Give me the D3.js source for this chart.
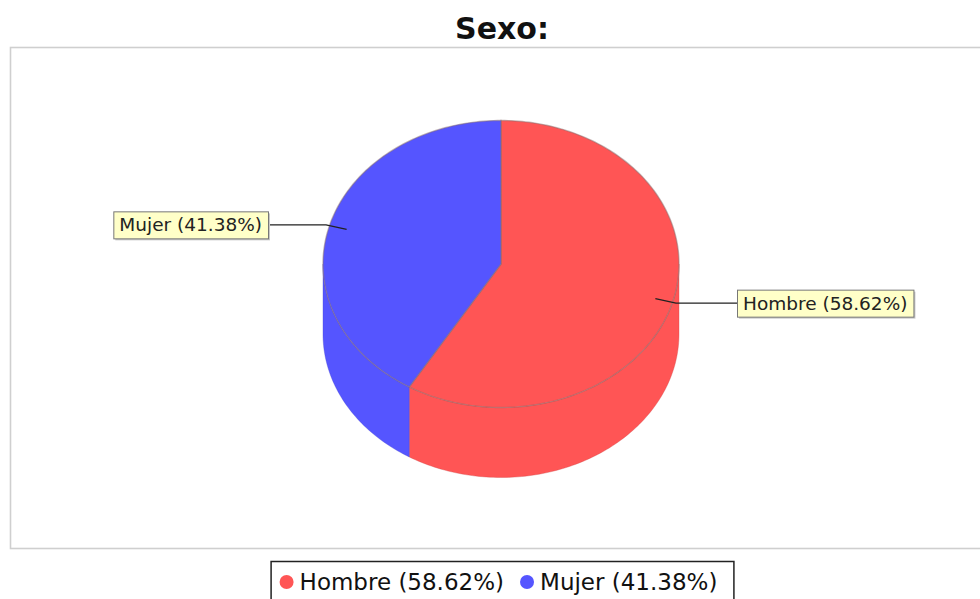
<!DOCTYPE html>
<html>
<head>
<meta charset="utf-8">
<script src="https://cdn.jsdelivr.net/npm/d3@7"></script>
<style>
  body { margin: 0; background: #fff; }
  svg { display: block; }
</style>
</head>
<body>
<svg id="chart" width="980" height="599"></svg>
<script>
// data
const categories = ["Hombre", "Mujer"];
const values = [58.62, 41.38];
const colors = ["#FF5555", "#5555FF"];

const width = 980, height = 599;
const svg = d3.select("#chart");

svg.append("rect").attr("width", width).attr("height", height).style("fill", "#fff");

// title
svg.append("text")
    .attr("x", 502)
    .attr("y", 39)
    .attr("text-anchor", "middle")
    .style("font-family", "DejaVu Sans")
    .style("font-weight", "bold")
    .style("font-size", "30px")
    .attr("fill", "#111")
    .text("Sexo:");

// plot area
svg.append("rect")
    .attr("x", 10.5).attr("y", 47.5)
    .attr("width", 990).attr("height", 501)
    .attr("fill", "none")
    .attr("stroke", "#cfcfcf")
    .attr("stroke-width", 1.6);

const cx = 501, cy = 264, rx = 178, ry = 143.5, depth = 70;

const pie = d3.pie().sort(null).value(d => d.value);
const arcs = pie(categories.map((c, i) => ({ name: c, value: values[i], color: colors[i] })));

const pt = (a, k = 1, dy = 0) => [cx + k * rx * Math.sin(a), cy + dy - k * ry * Math.cos(a)];

function arcPoints(a0, a1, dy) {
    const n = Math.max(2, Math.ceil((a1 - a0) / 0.02));
    return d3.range(n + 1).map(i => pt(a0 + (a1 - a0) * i / n, 1, dy));
}

const g = svg.append("g");

// side faces (front half: angles between PI/2 and 3PI/2)
arcs.forEach(d => {
    const a0 = Math.max(d.startAngle, Math.PI / 2);
    const a1 = Math.min(d.endAngle, 3 * Math.PI / 2);
    if (a1 <= a0) return;
    const top = arcPoints(a0, a1, 0);
    const bottom = arcPoints(a0, a1, depth).reverse();
    g.append("path")
        .attr("d", "M" + top.concat(bottom).join("L") + "Z")
        .attr("fill", d.data.color)
        .attr("stroke", d3.color(d.data.color).darker(0.6))
        .attr("stroke-opacity", 0.35)
        .attr("stroke-width", 1);
});

// top faces
arcs.forEach(d => {
    const p = [[cx, cy]].concat(arcPoints(d.startAngle, d.endAngle, 0));
    g.append("path")
        .attr("d", "M" + p.join("L") + "Z")
        .attr("fill", d.data.color)
        .attr("stroke", "#8a7070")
        .attr("stroke-opacity", 0.5)
        .attr("stroke-width", 1.4);
});

// labels
const labels = svg.append("g");
arcs.forEach(d => {
    const mid = (d.startAngle + d.endAngle) / 2;
    const right = Math.sin(mid) > 0;
    const anchor = pt(mid, 0.9);
    const edge = pt(mid, 1.02);
    const boxX = right ? cx + 236 : cx - 233;
    const ly = edge[1];

    labels.append("path")
        .attr("d", "M" + [anchor, edge, [boxX, ly]].join("L"))
        .attr("fill", "none")
        .attr("stroke", "#222")
        .attr("stroke-width", 1.3);

    const lg = labels.append("g");
    const t = lg.append("text")
        .style("font-family", "DejaVu Sans")
        .style("font-size", "18.5px")
        .style("font-weight", "500")
        .attr("fill", "#222")
        .text(d.data.name + " (" + d.data.value.toFixed(2) + "%)");
    const tw = t.node().getComputedTextLength();
    const bw = tw + 12, bh = 27;
    const bx = right ? boxX : boxX - bw;
    const by = ly - bh / 2;
    lg.insert("rect", "text")
        .attr("x", bx + 2).attr("y", by + 2)
        .attr("width", bw).attr("height", bh)
        .attr("fill", "#c8c8c8");
    lg.insert("rect", "text")
        .attr("x", bx + 0.5).attr("y", by + 0.5)
        .attr("width", bw).attr("height", bh)
        .attr("fill", "#FFFFC8")
        .attr("stroke", "#777");
    t.attr("x", bx + 6).attr("y", by + bh / 2 + 6.5);
});

// legend
const legend = svg.append("g");
let x = 0;
arcs.forEach((d, i) => {
    const it = legend.append("g");
    it.append("circle").attr("cx", x + 7).attr("cy", 0).attr("r", 7).attr("fill", d.data.color);
    const t = it.append("text")
        .attr("x", x + 20).attr("y", 8)
        .style("font-family", "DejaVu Sans")
        .style("font-size", "23px")
        .attr("fill", "#111")
        .text(d.data.name + " (" + d.data.value.toFixed(2) + "%)");
    x += 20 + t.node().getComputedTextLength() + 16;
});
const legW = x - 16 + 25;
const legX = 502 - legW / 2;
legend.attr("transform", "translate(" + (legX + 9) + ",582)");
svg.insert("rect", "g")
    .attr("x", legX + 0.5).attr("y", 561.5)
    .attr("width", legW).attr("height", 42)
    .attr("fill", "#fff")
    .attr("stroke", "#222")
    .attr("stroke-width", 1.5);
</script>
</body>
</html>
